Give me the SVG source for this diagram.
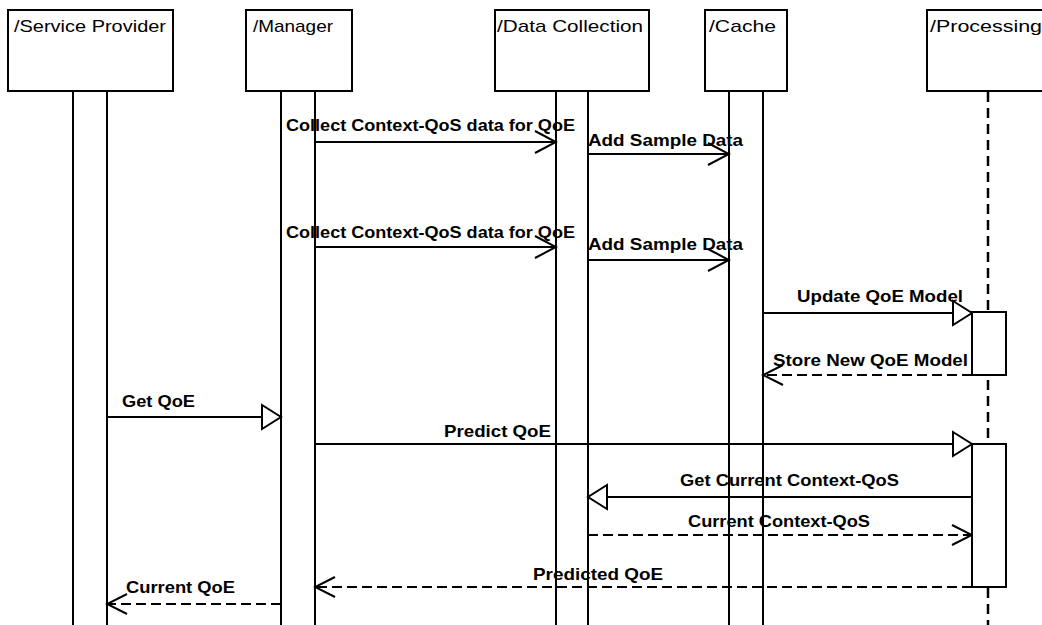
<svg xmlns="http://www.w3.org/2000/svg" width="1042" height="625" viewBox="0 0 1042 625">
<style>
.box{fill:#fff;stroke:#000;stroke-width:2}
.life{fill:none;stroke:#000;stroke-width:2}
.act{fill:#fff;stroke:#000;stroke-width:2}
.dashlife{fill:none;stroke:#000;stroke-width:2.5;stroke-dasharray:10 6}
.hdr{font-family:"Liberation Sans",Arial,sans-serif;font-size:17px;fill:#000}
.lbl{font-family:"Liberation Sans",Arial,sans-serif;font-size:17px;font-weight:bold;fill:#000}
.msg{fill:none;stroke:#000;stroke-width:2}
.ret{fill:none;stroke:#000;stroke-width:2;stroke-dasharray:10 5}
.sync{marker-end:url(#tri)}
.async{marker-end:url(#stick)}
.reply{marker-end:url(#vee)}
</style>
<defs>
<marker id="tri" markerUnits="userSpaceOnUse" viewBox="-22 -14 24 28" refX="0" refY="0" markerWidth="24" markerHeight="28" orient="auto">
<path d="M-19,-12 L0,0 L-19,12 Z" fill="#fff" stroke="#000" stroke-width="2"/>
</marker>
<marker id="stick" markerUnits="userSpaceOnUse" viewBox="-23 -14 25 28" refX="0" refY="0" markerWidth="25" markerHeight="28" orient="auto">
<path d="M-21,-11 L0,0 L-21,11" fill="none" stroke="#000" stroke-width="2"/>
</marker>
<marker id="vee" markerUnits="userSpaceOnUse" viewBox="-23 -14 25 28" refX="0" refY="0" markerWidth="25" markerHeight="28" orient="auto">
<path d="M-20,-10 L0,0 L-20,10" fill="none" stroke="#000" stroke-width="2"/>
</marker>
</defs>
<rect width="1042" height="625" fill="#fff"/>

<g id="service-provider">
<rect class="box" x="8" y="10" width="165" height="81"/>
<text class="hdr" x="14" y="32" textLength="152" lengthAdjust="spacingAndGlyphs">/Service Provider</text>
<rect class="life" x="73" y="91" width="34" height="545"/>
</g>
<g id="manager">
<rect class="box" x="246" y="10" width="106" height="81"/>
<text class="hdr" x="253" y="32" textLength="80" lengthAdjust="spacingAndGlyphs">/Manager</text>
<rect class="life" x="281" y="91" width="34" height="545"/>
</g>
<g id="data-collection">
<rect class="box" x="495" y="10" width="154" height="81"/>
<text class="hdr" x="497" y="32" textLength="146" lengthAdjust="spacingAndGlyphs">/Data Collection</text>
<rect class="life" x="556" y="91" width="32" height="545"/>
</g>
<g id="cache">
<rect class="box" x="705" y="10" width="82" height="81"/>
<text class="hdr" x="709" y="32" textLength="67" lengthAdjust="spacingAndGlyphs">/Cache</text>
<rect class="life" x="729" y="91" width="34" height="545"/>
</g>
<g id="processing">
<rect class="box" x="927" y="10" width="130" height="81"/>
<text class="hdr" x="930" y="32" textLength="112" lengthAdjust="spacingAndGlyphs">/Processing</text>
<line class="dashlife" x1="988" y1="92" x2="988" y2="625"/>
</g>

<g id="connectors">
<line class="msg async" x1="315" y1="142" x2="556" y2="142"/>
<line class="msg async" x1="588" y1="154" x2="729" y2="154"/>
<line class="msg async" x1="315" y1="247" x2="556" y2="247"/>
<line class="msg async" x1="588" y1="260" x2="729" y2="260"/>
<line class="msg sync" x1="763" y1="313" x2="972" y2="313"/>
<line class="ret reply" x1="972" y1="375" x2="763" y2="375"/>
<line class="msg sync" x1="107" y1="417" x2="281" y2="417"/>
<line class="msg sync" x1="315" y1="444" x2="972" y2="444"/>
<line class="msg sync" x1="972" y1="497" x2="588" y2="497"/>
<line class="ret reply" x1="588" y1="535" x2="972" y2="535"/>
<line class="ret reply" x1="972" y1="587" x2="315" y2="587"/>
<line class="ret reply" x1="281" y1="604" x2="107" y2="604"/>
</g>

<g id="processing-activations">
<rect class="act" x="972" y="312" width="34" height="63"/>
<rect class="act" x="972" y="444" width="34" height="143"/>
</g>

<g id="labels">
<text class="lbl" x="286" y="131" textLength="289" lengthAdjust="spacingAndGlyphs">Collect Context-QoS data for QoE</text>
<text class="lbl" x="588" y="146" textLength="155" lengthAdjust="spacingAndGlyphs">Add Sample Data</text>
<text class="lbl" x="286" y="238" textLength="289" lengthAdjust="spacingAndGlyphs">Collect Context-QoS data for QoE</text>
<text class="lbl" x="588" y="250" textLength="155" lengthAdjust="spacingAndGlyphs">Add Sample Data</text>
<text class="lbl" x="797" y="302" textLength="166" lengthAdjust="spacingAndGlyphs">Update QoE Model</text>
<text class="lbl" x="773" y="366" textLength="195" lengthAdjust="spacingAndGlyphs">Store New QoE Model</text>
<text class="lbl" x="122" y="407" textLength="73" lengthAdjust="spacingAndGlyphs">Get QoE</text>
<text class="lbl" x="444" y="437" textLength="107" lengthAdjust="spacingAndGlyphs">Predict QoE</text>
<text class="lbl" x="680" y="486" textLength="219" lengthAdjust="spacingAndGlyphs">Get Current Context-QoS</text>
<text class="lbl" x="688" y="527" textLength="182" lengthAdjust="spacingAndGlyphs">Current Context-QoS</text>
<text class="lbl" x="533" y="580" textLength="130" lengthAdjust="spacingAndGlyphs">Predicted QoE</text>
<text class="lbl" x="126" y="593" textLength="109" lengthAdjust="spacingAndGlyphs">Current QoE</text>
</g>
</svg>
